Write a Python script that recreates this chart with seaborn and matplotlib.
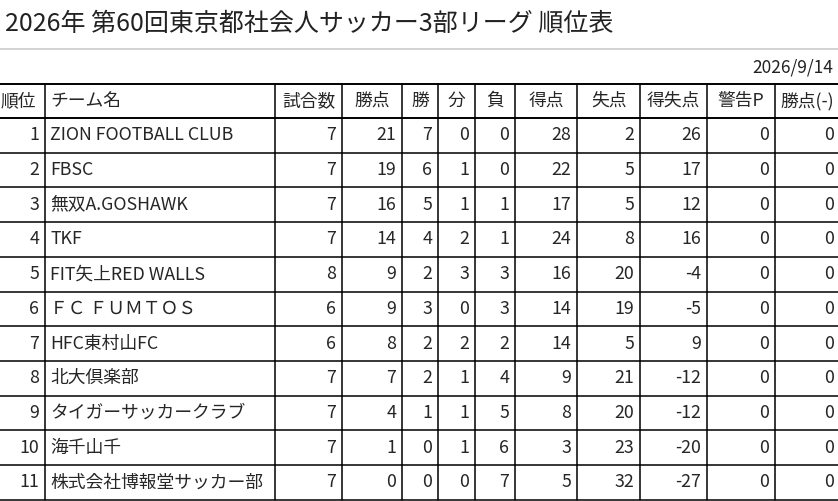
import matplotlib
matplotlib.use("Agg")
import matplotlib.pyplot as plt
import seaborn as sns

sns.set_style("white")
plt.rcParams['font.family'] = ['Noto Sans CJK JP', 'DejaVu Sans']

title = "2026年 第60回東京都社会人サッカー3部リーグ 順位表"
date = "2026/9/14"
headers = ["順位", "チーム名", "試合数", "勝点", "勝", "分", "負", "得点", "失点", "得失点", "警告P", "勝点(-)"]
rank = [1, 2, 3, 4, 5, 6, 7, 8, 9, 10, 11]
teams = ["ZION FOOTBALL CLUB", "FBSC", "無双A.GOSHAWK", "TKF", "FIT矢上RED WALLS",
         "ＦＣ ＦＵＭＴＯＳ", "HFC東村山FC", "北大倶楽部", "タイガーサッカークラブ", "海千山千",
         "株式会社博報堂サッカー部"]
played = [7, 7, 7, 7, 8, 6, 6, 7, 7, 7, 7]
points = [21, 19, 16, 14, 9, 9, 8, 7, 4, 1, 0]
wins = [7, 6, 5, 4, 2, 3, 2, 2, 1, 0, 0]
draws = [0, 1, 1, 2, 3, 0, 2, 1, 1, 1, 0]
losses = [0, 0, 1, 1, 3, 3, 2, 4, 5, 6, 7]
gf = [28, 22, 17, 24, 16, 14, 14, 9, 8, 3, 5]
ga = [2, 5, 5, 8, 20, 19, 5, 21, 20, 23, 32]
gd = [26, 17, 12, 16, -4, -5, 9, -12, -12, -20, -27]
warn = [0] * 11
minus = [0] * 11

# column edges in pixels
edges = [0, 45, 275, 342, 402, 438, 475, 515, 577, 640, 707, 775, 850]
top = 84
head_h = 34
row_h = 34.7
fs = 12.8

fig = plt.figure(figsize=(8.38, 5.01), dpi=100)
ax = fig.add_axes([0, 0, 1, 1])
ax.set_xlim(0, 838)
ax.set_ylim(501, 0)
ax.axis("off")

ax.text(5, 24, title, fontsize=18, va="center", ha="left", color="#222222")
ax.plot([0, 838], [49, 49], color="#cccccc", lw=1.2)
ax.text(833, 67, date, fontsize=12.5, va="center", ha="right", color="#222222")

n = len(teams)
bottom = top + head_h + n * row_h
ax.plot([0, 838], [top, top], color="black", lw=1.4)
ax.plot([0, 838], [top + head_h, top + head_h], color="black", lw=1.4)
for i in range(1, n + 1):
    y = top + head_h + i * row_h
    ax.plot([0, 838], [y, y], color="black", lw=1.1)
for x in edges[1:-1]:
    ax.plot([x, x], [top, bottom], color="black", lw=1.1)

for j, h in enumerate(headers):
    if j == 1:
        ax.text(edges[1] + 5, top + head_h / 2, h, fontsize=fs, va="center", ha="left")
    elif j == 0:
        ax.text(1, top + head_h / 2, h, fontsize=fs, va="center", ha="left")
    else:
        ax.text((edges[j] + min(edges[j + 1], 840)) / 2, top + head_h / 2, h,
                fontsize=fs, va="center", ha="center")

cols = [rank, teams, played, points, wins, draws, losses, gf, ga, gd, warn, minus]
for i in range(n):
    yc = top + head_h + (i + 0.5) * row_h
    for j, col in enumerate(cols):
        v = col[i]
        if j == 1:
            ax.text(edges[1] + 5, yc, v, fontsize=fs, va="center", ha="left")
        else:
            right = min(edges[j + 1], 840) - 6
            ax.text(right, yc, str(v), fontsize=fs, va="center", ha="right")

fig.savefig("out.png", dpi=100)
